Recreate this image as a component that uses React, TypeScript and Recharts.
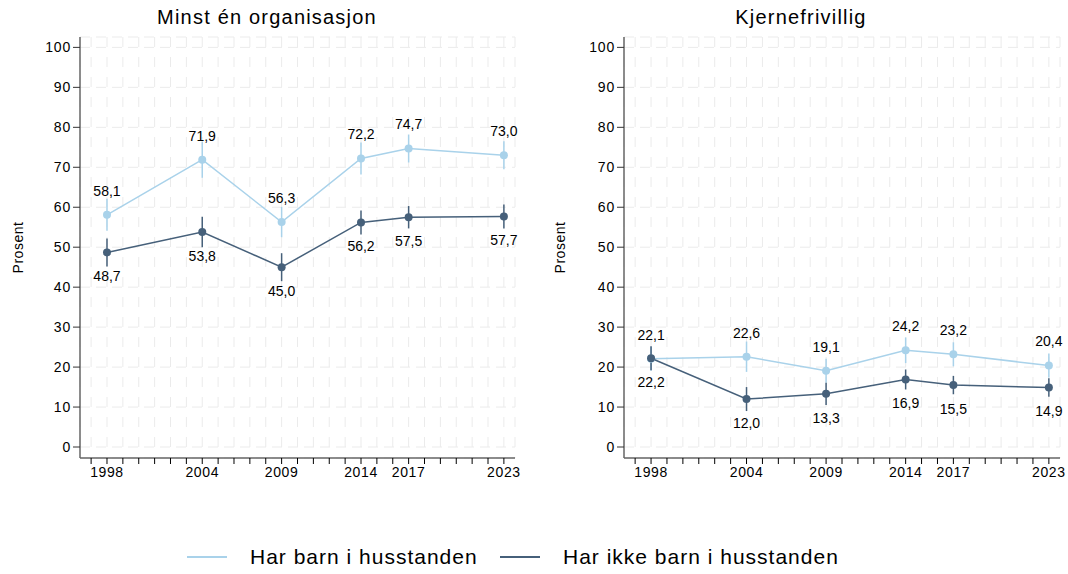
import React from 'react';
import { LineChart, Line, XAxis, YAxis, CartesianGrid, ErrorBar, LabelList } from 'recharts';

const years = [1998, 2004, 2009, 2014, 2017, 2023];
const leftBarn = [58.1, 71.9, 56.3, 72.2, 74.7, 73.0];
const leftIkke = [48.7, 53.8, 45.0, 56.2, 57.5, 57.7];
const rightBarn = [22.1, 22.6, 19.1, 24.2, 23.2, 20.4];
const rightIkke = [22.2, 12.0, 13.3, 16.9, 15.5, 14.9];
const leftBarnErr = [4.0, 4.5, 3.8, 4.0, 3.5, 3.5];
const leftIkkeErr = [3.5, 3.8, 3.5, 3.0, 2.8, 3.0];
const rightBarnErr = [3.0, 3.8, 3.0, 3.2, 3.0, 3.0];
const rightIkkeErr = [3.0, 3.0, 2.8, 2.5, 2.3, 2.3];
const titles = ['Minst én organisasjon', 'Kjernefrivillig'];
const seriesNames = ['Har barn i husstanden', 'Har ikke barn i husstanden'];
const yTicks = [0, 10, 20, 30, 40, 50, 60, 70, 80, 90, 100];
const xTicks = Array.from({ length: 27 }, (_, i) => 1997 + i);

const LIGHT = '#a9d2ea';
const DARK = '#46607a';
const FONT = '"Liberation Sans", Arial, Helvetica, sans-serif';

const build = (a: number[], b: number[], ea: number[], eb: number[]) =>
  years.map((y, i) => ({ year: y, a: a[i], b: b[i], ea: ea[i], eb: eb[i] }));

const fmt = (v: number) => v.toFixed(1).replace('.', ',');

const XTick = (props: any) => {
  const { x, y, payload } = props;
  if (!years.includes(payload.value)) return null;
  return (
    <text x={x} y={y} dy="0.75em" textAnchor="middle" fontSize={14} letterSpacing={0.6} fill="#000" fontFamily={FONT}>
      {payload.value}
    </text>
  );
};

const YTick = (props: any) => {
  const { x, y, payload } = props;
  return (
    <text x={x} y={y} dy="0.35em" textAnchor="end" fontSize={14} letterSpacing={0.8} fill="#000" fontFamily={FONT}>
      {payload.value}
    </text>
  );
};

const makeLabel = (above: boolean) => (props: any) => {
  const { x, y, value } = props;
  return (
    <text
      x={x}
      y={above ? y - 24 : y + 24}
      dy="0.35em"
      textAnchor="middle"
      fontSize={14}
      fill="#000"
      fontFamily={FONT}
    >
      {fmt(value)}
    </text>
  );
};

const Panel = ({ data, yWidth, right, title, labelOffset }: any) => (
  <div style={{ position: 'relative', width: 534, height: 500 }}>
    <div
      style={{
        position: 'absolute',
        top: 6,
        left: 0,
        width: 534,
        textAlign: 'center',
        fontSize: 20,
        letterSpacing: 1.2,
        fontFamily: FONT,
        color: '#000',
      }}
    >
      {title}
    </div>
    <LineChart width={534} height={500} data={data} margin={{ top: 37, right, bottom: 12, left: 0 }}>
      <CartesianGrid horizontal={true} vertical={false} stroke="#ebebeb" strokeDasharray="10 6" />
      <CartesianGrid horizontal={false} vertical={true} stroke="#ebebeb" strokeDasharray="10 10" />
      <XAxis
        dataKey="year"
        type="number"
        domain={[1996.3, 2023.7]}
        ticks={xTicks}
        interval={0}
        tick={<XTick />}
        tickSize={6}
        tickLine={{ stroke: '#000' }}
        axisLine={{ stroke: '#666', strokeWidth: 1.5 }}
        height={30}
        allowDataOverflow
      />
      <YAxis
        type="number"
        domain={[-2.75, 102.6]}
        ticks={yTicks}
        interval={0}
        width={yWidth}
        tickSize={7}
        tick={<YTick />}
        tickLine={{ stroke: '#333' }}
        axisLine={{ stroke: '#666', strokeWidth: 1.5 }}
        allowDataOverflow
        label={{
          value: 'Prosent',
          angle: -90,
          position: 'insideLeft',
          offset: labelOffset,
          style: { fontSize: 14, fill: '#000', fontFamily: FONT, textAnchor: 'middle', letterSpacing: 0.5 },
        }}
      />
      <Line
        dataKey="a"
        stroke={LIGHT}
        strokeWidth={1.5}
        dot={{ r: 4, fill: LIGHT, stroke: 'none' }}
        isAnimationActive={false}
      >
        <ErrorBar dataKey="ea" width={0} stroke={LIGHT} strokeWidth={1.5} direction="y" />
        <LabelList dataKey="a" content={makeLabel(true)} />
      </Line>
      <Line
        dataKey="b"
        stroke={DARK}
        strokeWidth={1.5}
        dot={{ r: 4, fill: DARK, stroke: 'none' }}
        isAnimationActive={false}
      >
        <ErrorBar dataKey="eb" width={0} stroke={DARK} strokeWidth={1.5} direction="y" />
        <LabelList dataKey="b" content={makeLabel(false)} />
      </Line>
    </LineChart>
  </div>
);

export default function App() {
  const left = build(leftBarn, leftIkke, leftBarnErr, leftIkkeErr);
  const rightD = build(rightBarn, rightIkke, rightBarnErr, rightIkkeErr);
  const legendText: React.CSSProperties = {
    position: 'absolute',
    top: 544,
    fontSize: 21,
    letterSpacing: 1,
    fontFamily: FONT,
    color: '#000',
    whiteSpace: 'nowrap',
    lineHeight: '26px',
  };
  return (
    <div style={{ position: 'absolute', left: 0, top: 0, width: 1068, height: 574, background: '#fff', fontFamily: FONT }}>
      <div style={{ position: 'absolute', left: 0, top: 0 }}>
        <Panel data={left} yWidth={80} right={19} title={titles[0]} labelOffset={18} />
      </div>
      <div style={{ position: 'absolute', left: 534, top: 0 }}>
        <Panel data={rightD} yWidth={90} right={8} title={titles[1]} labelOffset={26} />
      </div>
      <span style={{ position: 'absolute', left: 187, top: 556, width: 40, height: 0, borderTop: `2px solid ${LIGHT}` }} />
      <span style={{ ...legendText, left: 250 }}>{seriesNames[0]}</span>
      <span style={{ position: 'absolute', left: 500, top: 556, width: 40, height: 0, borderTop: `2px solid ${DARK}` }} />
      <span style={{ ...legendText, left: 563 }}>{seriesNames[1]}</span>
    </div>
  );
}
